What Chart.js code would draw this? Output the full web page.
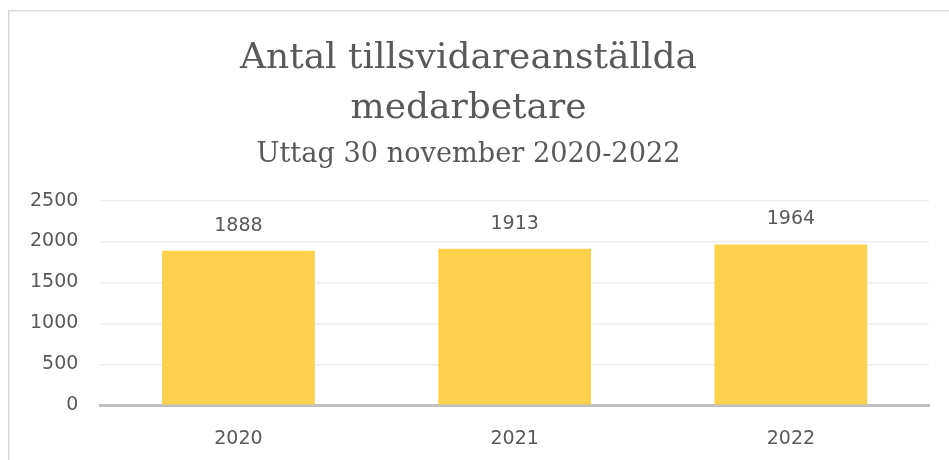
<!DOCTYPE html>
<html lang="sv">
<head>
    <meta charset="UTF-8">
    <title>Antal tillsvidareanställda medarbetare</title>
    <style>
        html, body {
            margin: 0;
            padding: 0;
            background-color: #ffffff;
            overflow: hidden;
        }
        canvas {
            display: block;
        }
    </style>
</head>
<body>
    <canvas id="myChart" width="949" height="460"></canvas>
    <script src="https://cdn.jsdelivr.net/npm/chart.js"></script>
    <script>
        // Data
        const years = ['2020', '2021', '2022'];
        const employees = [1888, 1913, 1964];
        const yTicks = [0, 500, 1000, 1500, 2000, 2500];

        const textColor = '#595959';
        const tickFont = { family: 'DejaVu Sans', size: 19 };

        // Light frame around the chart, like the Excel chart border
        const frame = {
            id: 'frame',
            beforeDraw(chart) {
                const ctx = chart.ctx;
                ctx.save();
                ctx.strokeStyle = '#d9d9d9';
                ctx.lineWidth = 1.5;
                ctx.strokeRect(8.75, 10.75, chart.width + 20, chart.height + 20);
                ctx.restore();
            }
        };

        // Value labels above each bar
        const valueLabels = {
            id: 'valueLabels',
            afterDatasetsDraw(chart) {
                const ctx = chart.ctx;
                const meta = chart.getDatasetMeta(0);
                ctx.save();
                ctx.font = tickFont.size + 'px ' + tickFont.family;
                ctx.fillStyle = textColor;
                ctx.textAlign = 'center';
                ctx.textBaseline = 'middle';
                meta.data.forEach((bar, i) => {
                    ctx.fillText(String(employees[i]), bar.x, bar.y - 25);
                });
                ctx.restore();
            }
        };

        const ctx = document.getElementById('myChart').getContext('2d');
        const myChart = new Chart(ctx, {
            type: 'bar',
            data: {
                labels: years,
                datasets: [{
                    label: 'Antal',
                    data: employees,
                    backgroundColor: '#FED14D',
                    borderWidth: 0,
                    categoryPercentage: 1,
                    barPercentage: 0.553
                }]
            },
            options: {
                responsive: false,
                animation: false,
                layout: {
                    // tick padding is counted twice by the axes, so pull the edges back in
                    padding: { top: 0, left: 8, right: 20, bottom: -12 }
                },
                plugins: {
                    legend: { display: false },
                    tooltip: { enabled: false },
                    title: {
                        display: true,
                        text: ['Antal tillsvidareanställda', 'medarbetare'],
                        color: textColor,
                        font: { family: 'DejaVu Serif', size: 36, weight: 'normal', lineHeight: 1.389 },
                        padding: { top: 34, bottom: 2 }
                    },
                    subtitle: {
                        display: true,
                        text: 'Uttag 30 november 2020-2022',
                        color: textColor,
                        font: { family: 'DejaVu Serif', size: 27.2, weight: 'normal', lineHeight: 1.2 },
                        padding: { top: 3, bottom: 29 }
                    }
                },
                scales: {
                    x: {
                        grid: { display: false, drawTicks: false },
                        border: { color: '#bfbfbf', width: 3 },
                        ticks: { color: textColor, font: tickFont, padding: 22 }
                    },
                    y: {
                        min: 0,
                        max: 2500,
                        afterBuildTicks(axis) {
                            axis.ticks = yTicks.map(v => ({ value: v }));
                        },
                        grid: { color: '#eeeeee', lineWidth: 1.5, drawTicks: false },
                        border: { display: false },
                        ticks: {
                            color: textColor,
                            font: tickFont,
                            padding: 22,
                            callback: (value) => String(value)
                        }
                    }
                }
            },
            plugins: [frame, valueLabels]
        });
    </script>
</body>
</html>
